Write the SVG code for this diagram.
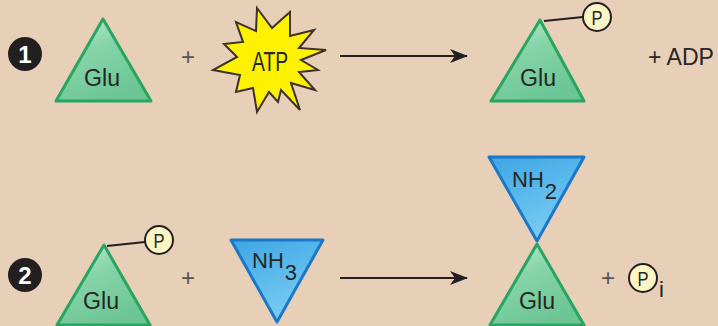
<svg xmlns="http://www.w3.org/2000/svg" width="718" height="326" viewBox="0 0 718 326">
<defs>
<linearGradient id="gGreen" x1="0" y1="0" x2="0.5" y2="1">
<stop offset="0" stop-color="#c4eed6"/>
<stop offset="0.45" stop-color="#86d4a8"/>
<stop offset="1" stop-color="#6cc694"/>
</linearGradient>
<linearGradient id="gBlue" x1="0" y1="0" x2="0.4" y2="1">
<stop offset="0" stop-color="#3ea6e2"/>
<stop offset="0.5" stop-color="#5ab9ec"/>
<stop offset="1" stop-color="#7accf2"/>
</linearGradient>
<marker id="arr" viewBox="0 0 18 14" refX="17" refY="7" markerWidth="18" markerHeight="14" markerUnits="userSpaceOnUse" orient="auto">
<path d="M0,0 L18,7 L0,14 L5,7 z" fill="#231f20"/>
</marker>
</defs>
<style>
.glu{fill:url(#gGreen);stroke:#27a561;stroke-width:3;stroke-linejoin:round}
.blu{fill:url(#gBlue);stroke:#1b78c8;stroke-width:3;stroke-linejoin:round}
.t{font-family:"Liberation Sans",Arial,sans-serif;fill:#262626}
.lbl{font-size:23px;text-anchor:middle}
.pc{fill:#fbf6c4;stroke:#231f20;stroke-width:2}
.pt{font-size:21px;text-anchor:middle}
.num{fill:#231f20}
.numt{font-family:"Liberation Sans",Arial,sans-serif;font-weight:bold;font-size:24px;fill:#ffffff;text-anchor:middle}
.plus{font-family:"Liberation Sans",Arial,sans-serif;font-size:24px;fill:#555;text-anchor:middle}
.bond{stroke:#231f20;stroke-width:2;fill:none}
.arrow{stroke:#231f20;stroke-width:2;fill:none;marker-end:url(#arr)}
</style>
<rect width="718" height="326" fill="#e8cfb7"/>

<g id="step1">
<circle class="num" cx="25" cy="54" r="17"/>
<text class="numt" x="25" y="63">1</text>
</g>
<g id="step2">
<circle class="num" cx="25" cy="275" r="17"/>
<text class="numt" x="25" y="284">2</text>
</g>

<g id="glu1">
<path class="glu" d="M103,19 L151,101 L56,101 Z"/>
<text class="t lbl" x="102" y="86" textLength="36" lengthAdjust="spacingAndGlyphs">Glu</text>
</g>
<text id="plus1" class="plus" x="188" y="65">+</text>
<g id="atp">
<path d="M257,8 L272,28 L290,12 L290,36 L314,30 L299,48 L326,50 L301,60 L318,70 L299,72 L315,90 L291,83 L300,110 L281,90 L278,102 L269,92 L257,112 L253,88 L236,92 L240,75 L213,70 L237,57 L224,44 L243,42 L236,22 L256,31 Z" fill="#fff200" stroke="#3d3028" stroke-width="2" stroke-linejoin="miter"/>
<text class="t" x="270" y="71" font-size="28" text-anchor="middle" textLength="36" lengthAdjust="spacingAndGlyphs">ATP</text>
</g>
<g id="gluP1">
<line class="bond" x1="544" y1="21" x2="583" y2="17"/>
<path class="glu" d="M540,20 L584,101 L491,101 Z"/>
<text class="t lbl" x="538" y="86" textLength="36" lengthAdjust="spacingAndGlyphs">Glu</text>
<circle class="pc" cx="597" cy="17" r="14"/>
<text class="t pt" x="597" y="25" textLength="11" lengthAdjust="spacingAndGlyphs">P</text>
</g>
<text id="adp" class="t" x="648" y="65" font-size="24" textLength="66" lengthAdjust="spacingAndGlyphs">+ ADP</text>

<g id="gluP2">
<line class="bond" x1="107" y1="246" x2="145" y2="242"/>
<path class="glu" d="M104,245 L150,325 L57,325 Z"/>
<text class="t lbl" x="101" y="309" textLength="36" lengthAdjust="spacingAndGlyphs">Glu</text>
<circle class="pc" cx="159" cy="240" r="14"/>
<text class="t pt" x="159" y="248" textLength="11" lengthAdjust="spacingAndGlyphs">P</text>
</g>
<text id="plus2" class="plus" x="188" y="286">+</text>
<g id="nh3">
<path class="blu" d="M231,240 L323,240 L277,322 Z"/>
<text class="t" x="252" y="268" font-size="22">NH<tspan dx="1" dy="12">3</tspan></text>
</g>
<g id="product2">
<path class="blu" d="M489,157 L584,157 L537,241 Z"/>
<text class="t" x="512" y="187" font-size="22">NH<tspan dx="1" dy="12">2</tspan></text>
<path class="glu" d="M537,244 L584,325 L490,325 Z"/>
<text class="t lbl" x="537" y="309" textLength="36" lengthAdjust="spacingAndGlyphs">Glu</text>
</g>
<g id="pi">
<text class="plus" x="608" y="286" fill="#444">+</text>
<circle class="pc" cx="643" cy="278" r="14"/>
<text class="t pt" x="643" y="286" textLength="11" lengthAdjust="spacingAndGlyphs">P</text>
<text class="t" x="659" y="297" font-size="22">i</text>
</g>

<g id="connectors">
<line class="arrow" x1="340" y1="56" x2="467" y2="56"/>
<line class="arrow" x1="340" y1="278" x2="467" y2="278"/>
</g>
</svg>
